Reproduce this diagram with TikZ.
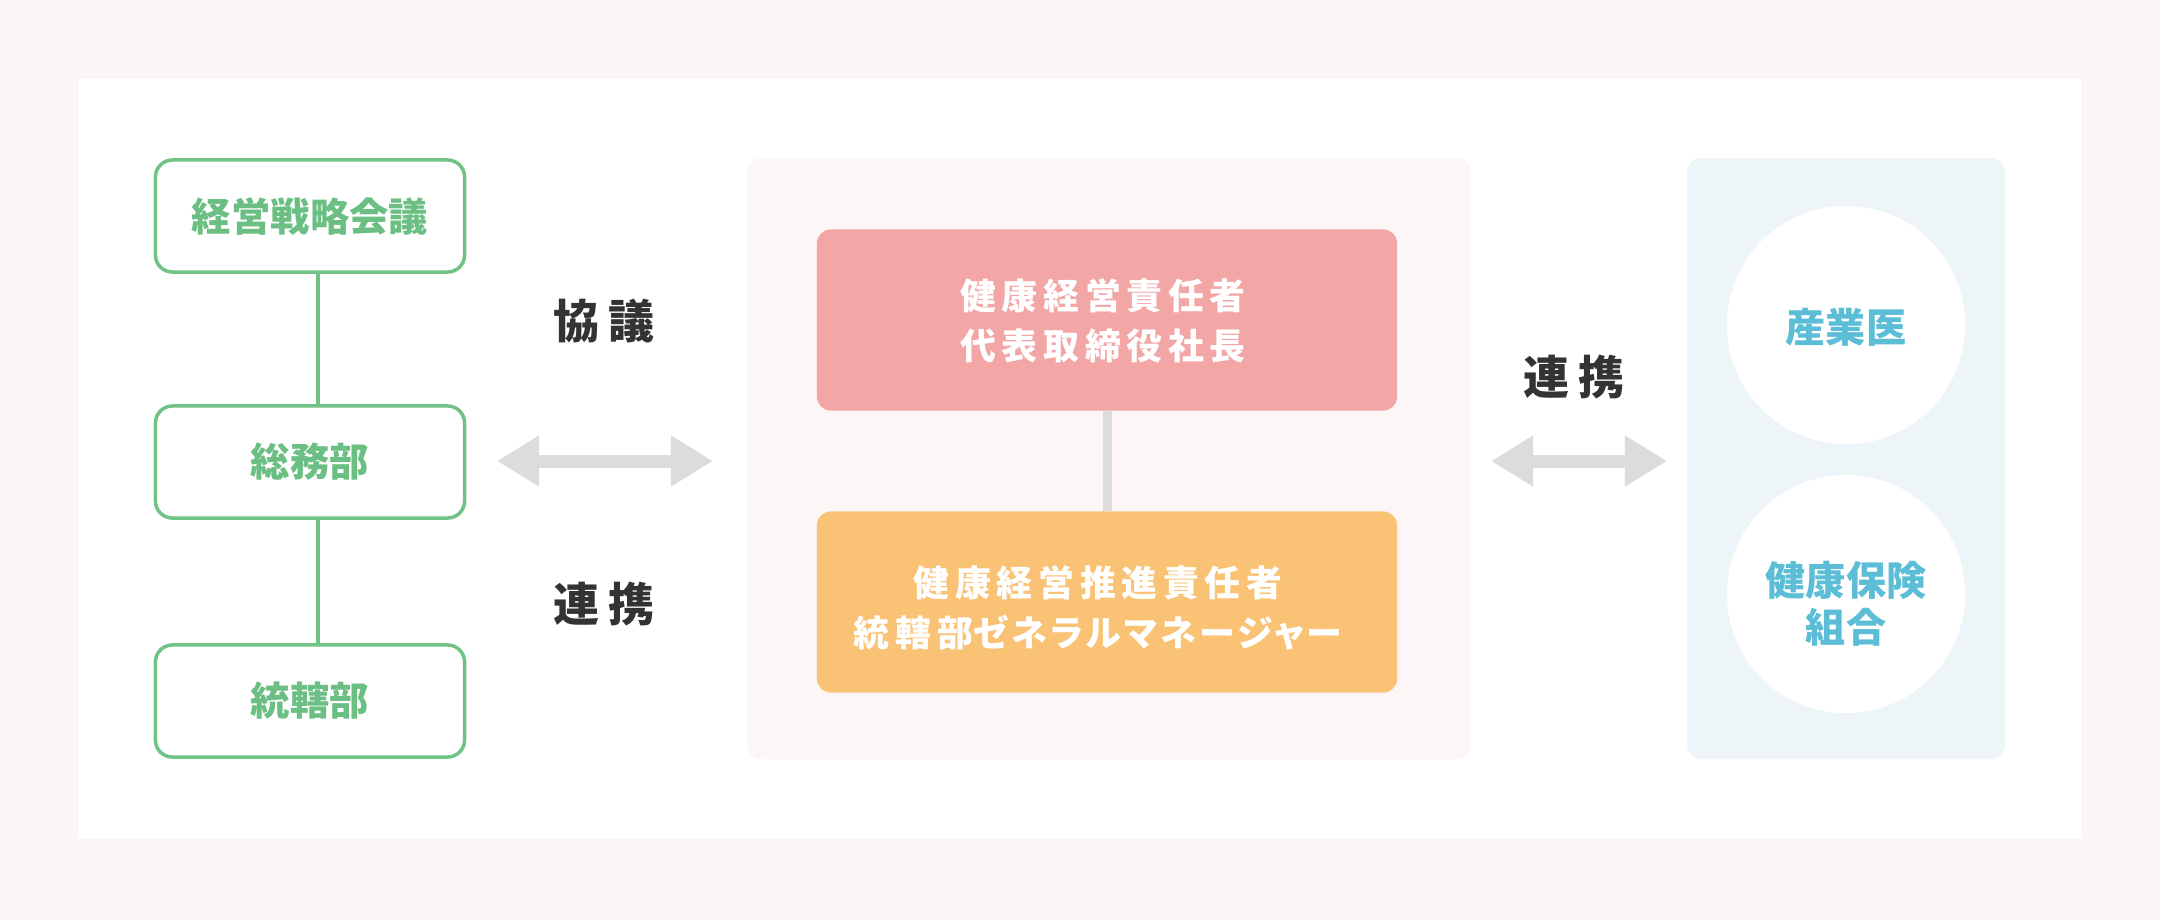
\documentclass[tikz,border=0pt]{standalone}
\usepackage{fontspec}
\usepackage{tikz}
\usetikzlibrary{shapes,arrows.meta,positioning}
\newfontfamily\jpfont{Noto Sans CJK JP}
\newfontfamily\jplabelfont{Noto Sans CJK JP}[LetterSpace=20]
\newfontfamily\jpwhitefont{Noto Sans CJK JP}[LetterSpace=16,RawFeature=+palt]
\newfontfamily\jpkanafont{Noto Sans CJK JP}[LetterSpace=9,RawFeature=+palt]
\definecolor{bgpink}{HTML}{FCF5F5}
\definecolor{panelpink}{HTML}{FCF6F6}
\definecolor{panelblue}{HTML}{EEF5F9}
\definecolor{boxred}{HTML}{F3A6A6}
\definecolor{boxorange}{HTML}{F9C275}
\definecolor{boxgreen}{HTML}{70C286}
\definecolor{textgreen}{HTML}{6CBF83}
\definecolor{textblue}{HTML}{5BBDD6}
\definecolor{textdark}{HTML}{333333}
\definecolor{arrowgray}{HTML}{DCDCDC}

\begin{document}
\begin{tikzpicture}[x=0.01cm,y=-0.01cm,
    greenbox/.style={draw=boxgreen, line width=0.035cm, rounded corners=0.17cm, fill=white,
      minimum width=3.09cm, minimum height=1.12cm, text=textgreen,
      font=\jpfont\bfseries\fontsize{11.2pt}{14pt}\selectfont},
    colorbox/.style={rounded corners=0.14cm, minimum width=5.8cm, minimum height=1.81cm},
    whitetext/.style={text=white, align=center,
      font=\jpwhitefont\bfseries\fontsize{10.2pt}{14.2pt}\selectfont},
    bluecircle/.style={circle, fill=white, minimum size=2.38cm},
    bluetext/.style={text=textblue, align=center,
      font=\jpfont\bfseries\fontsize{11.4pt}{13.4pt}\selectfont},
    darklabel/.style={text=textdark, font=\jplabelfont\bfseries\fontsize{13.1pt}{16pt}\selectfont},
    greenline/.style={draw=boxgreen, line width=0.035cm},
    grayline/.style={draw=arrowgray, line width=0.09cm},
    twoarrow/.style={draw=arrowgray, line width=0.13cm,
      {Triangle[length=0.42cm,width=0.48cm]}-{Triangle[length=0.42cm,width=0.48cm]}}]
  % background
  \fill[bgpink] (0,0) rectangle (2160,920);
  \useasboundingbox (0,0) rectangle (2160,920);
  \fill[white] (79,79) rectangle (2081,839);
  \fill[panelpink, rounded corners=0.14cm] (747,158) rectangle (1471,759);
  \fill[panelblue, rounded corners=0.14cm] (1687,158) rectangle (2005,759);

  % left column
  \node[greenbox] (meeting) at (310,216) {経営戦略会議};
  \node[greenbox] (general) at (310,462) {総務部};
  \node[greenbox] (control) at (310,701) {統轄部};
  \draw[greenline] ([xshift=0.08cm]meeting.south) -- ([xshift=0.08cm]general.north);
  \draw[greenline] ([xshift=0.08cm]general.south) -- ([xshift=0.08cm]control.north);

  % middle panel
  \node[colorbox, fill=boxred] (ceo) at (1107,320) {};
  \node[colorbox, fill=boxorange] (gm) at (1107,602) {};
  \node[whitetext] (ceoText) at (1103,321) {健康経営責任者\\代表取締役社長};
  \node[whitetext] (gmText) at (1098,608) {健康経営推進責任者\\統轄部{\jpkanafont ゼネラルマネージャー}};
  \draw[grayline] (ceo) -- (gm);

  % right panel
  \node[bluecircle] (doctor) at (1846,325) {};
  \node[bluecircle] (union) at (1846,594) {};
  \node[bluetext] (doctorText) at (1846,327) {産業医};
  \node[bluetext] (unionText) at (1846,604) {健康保険\\組合};

  % arrows
  \coordinate (leftA) at (497,461);
  \coordinate (leftB) at (713,461);
  \coordinate (rightA) at (1491,461);
  \coordinate (rightB) at (1667,461);
  \draw[twoarrow] (leftA) -- (leftB);
  \draw[twoarrow] (rightA) -- (rightB);

  % labels
  \node[darklabel] (consult) at (604,321) {協議};
  \node[darklabel] (coopL) at (604,604) {連携};
  \node[darklabel] (coopR) at (1574,377) {連携};
\end{tikzpicture}
\end{document}
